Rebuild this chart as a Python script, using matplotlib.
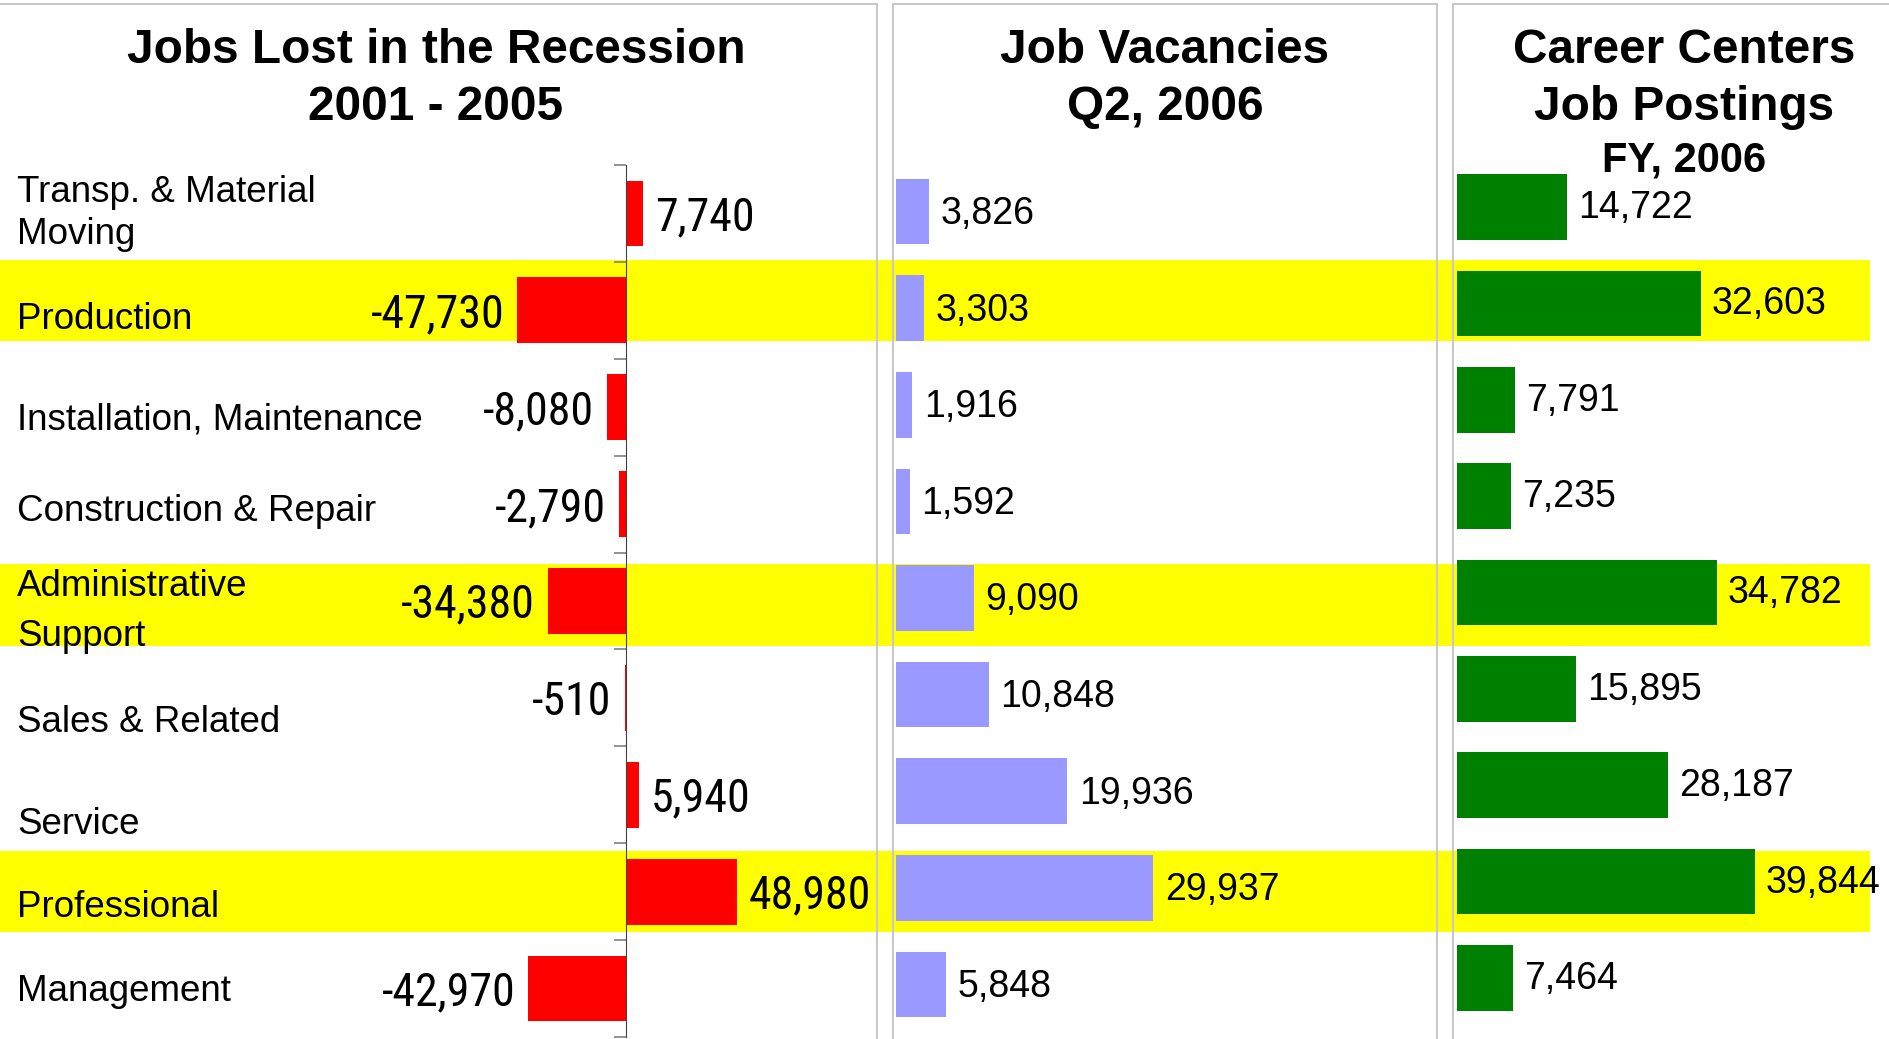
import matplotlib
matplotlib.use("Agg")
import matplotlib.pyplot as plt
from matplotlib.patches import Rectangle
from matplotlib.transforms import blended_transform_factory

plt.rcParams['font.family'] = ['Liberation Sans', 'DejaVu Sans']

# Data
categories = ["Transp. & Material\nMoving", "Production", "Installation, Maintenance",
              "Construction & Repair", "Administrative\nSupport", "Sales & Related",
              "Service", "Professional", "Management"]
jobs_lost = [7740, -47730, -8080, -2790, -34380, -510, 5940, 48980, -42970]
vacancies = [3826, 3303, 1916, 1592, 9090, 10848, 19936, 29937, 5848]
postings = [14722, 32603, 7791, 7235, 34782, 15895, 28187, 39844, 7464]
highlighted = [1, 4, 7]

TITLE_LOST = "Jobs Lost in the Recession\n2001 - 2005"
TITLE_VAC = "Job Vacancies\nQ2, 2006"
TITLE_POST = "Career Centers\nJob Postings"
SUBTITLE_POST = "FY, 2006"

# layout tweaks (slot units) for the category labels and yellow bands
label_dy = [0.0, 0.09, 0.13, 0.08, 0.11, 0.25, 0.31, 0.16, 0.03]
band_dy = {1: -0.1, 4: 0.04, 7: 0.0}

W, H = 1890, 1039
fig = plt.figure(figsize=(W / 100, H / 100), dpi=100)


def add_axes_px(x0, x1, top, bottom):
    return fig.add_axes([x0 / W, (H - bottom) / H, (x1 - x0) / W, (bottom - top) / H])


ax_l = add_axes_px(17, 877, 165, 1037)
ax_m = add_axes_px(896, 1437, 163.2, 1032.8)
ax_r = add_axes_px(1457, 1890, 158.8, 1026.2)

n = len(categories)
ypos = list(range(n))
bar_h = 0.68

for ax in (ax_l, ax_m, ax_r):
    ax.set_facecolor('none')
    ax.set_ylim(n - 0.5, -0.5)
    for s in ax.spines.values():
        s.set_visible(False)
    ax.set_xticks([])
    ax.set_yticks([])

# yellow highlight bands across the whole figure
band_tr = blended_transform_factory(fig.transFigure, ax_l.transData)
for i in highlighted:
    c = i + band_dy.get(i, 0)
    fig.patches.append(Rectangle((0, c - 0.42), 1870 / W, 0.84, transform=band_tr,
                                 facecolor='#FFFF00', edgecolor='none', zorder=-5))

# panel frames
for x0, x1 in [(-5, 877), (893, 1437), (1453, 1900)]:
    fig.patches.append(Rectangle((x0 / W, -0.05), (x1 - x0) / W, (H - 4) / H + 0.05,
                                 transform=fig.transFigure, facecolor='none',
                                 edgecolor='#c8c8c8', lw=1.5, zorder=-4))

# left panel: jobs lost
ax_l.set_xlim(-268150, 110700)
ax_l.barh(ypos, jobs_lost, height=bar_h, color='#FF0000', zorder=2)
ax_l.spines['left'].set_visible(True)
ax_l.spines['left'].set_position(('data', 0))
ax_l.spines['left'].set_color('#404040')
ax_l.set_yticks([i - 0.5 for i in range(n + 1)])
ax_l.set_yticklabels([])
ax_l.tick_params(axis='y', direction='out', length=8.5, color='#808080', width=1.2)
for i, v in enumerate(jobs_lost):
    off = 5300 if v >= 0 else -5700
    ax_l.text(v + off, i + 0.04, f"{v:,}", ha='left' if v >= 0 else 'right', va='center',
              fontsize=33, family=['Roboto Condensed', 'Liberation Sans'], clip_on=False)
for i, lab in enumerate(categories):
    ls = 1.55 if i == 4 else 1.27
    ax_l.text(0, i + label_dy[i], lab, transform=blended_transform_factory(ax_l.transAxes, ax_l.transData),
              ha='left', va='center', fontsize=26.5, linespacing=ls)

# middle panel: vacancies
ax_m.set_xlim(0, 62900)
ax_m.barh(ypos, vacancies, height=bar_h, color='#9999FF', zorder=2)
for i, v in enumerate(vacancies):
    ax_m.text(v + 1300, i + 0.025, f"{v:,}", ha='left', va='center', fontsize=27, clip_on=False)

# right panel: postings
ax_r.set_xlim(0, 57900)
ax_r.barh(ypos, postings, height=bar_h, color='#008000', zorder=2)
for i, v in enumerate(postings):
    ax_r.text(v + 1450, i + 0.01, f"{v:,}", ha='left', va='center', fontsize=27, clip_on=False)

# titles
for x, title in [(436, TITLE_LOST), (1165, TITLE_VAC), (1684, TITLE_POST)]:
    fig.text(x / W, 1 - 79 / H, title, ha='center', va='center', fontsize=34.4,
             fontweight='bold', linespacing=1.36)
fig.text(1684 / W, 1 - 160 / H, SUBTITLE_POST, ha='center', va='center', fontsize=30,
         fontweight='bold')

fig.savefig("out.png", dpi=100, facecolor='white')
